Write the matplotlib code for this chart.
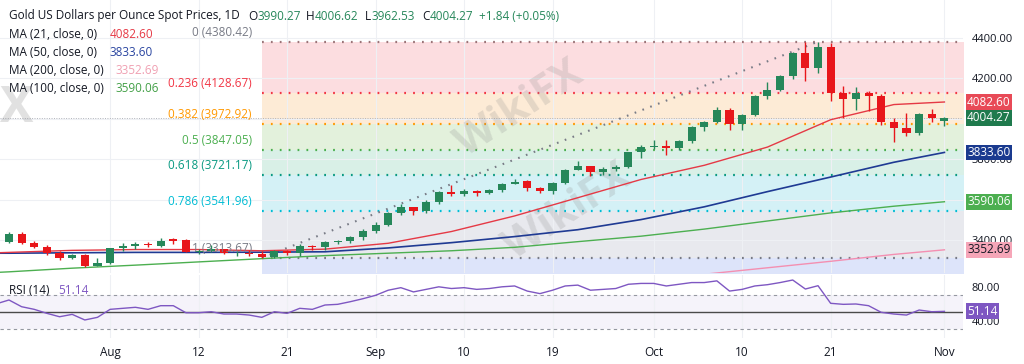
import numpy as np
import pandas as pd
import matplotlib
matplotlib.use("Agg")
import matplotlib.pyplot as plt
from matplotlib.transforms import blended_transform_factory

plt.rcParams['font.family'] = ['Open Sans', 'DejaVu Sans']

# daily bars, Jul 22 .. Nov 3 2025
dates = pd.bdate_range("2025-07-22", "2025-11-03")

opens = [3393, 3432, 3387, 3368, 3337, 3314, 3326, 3274, 3289, 3362,
         3373, 3380, 3372, 3404, 3400, 3343, 3348, 3356, 3335, 3336,
         3332, 3316, 3348, 3339, 3373, 3366, 3393, 3397, 3416, 3448,
         3477, 3533, 3563, 3545, 3588, 3638, 3628, 3642, 3633, 3646,
         3680, 3692, 3660, 3645, 3685, 3748, 3765, 3737, 3750, 3762,
         3835, 3858, 3866, 3856, 3888, 3960, 3986, 4042, 3976, 4017,
         4110, 4143, 4210, 4327, 4252, 4356, 4126, 4096, 4127, 4112,
         3982, 3953, 3930, 4024, 3990.27]
highs = [3440, 3439, 3394, 3378, 3345, 3334, 3334, 3314, 3363, 3385,
         3390, 3393, 3409, 3412, 3405, 3358, 3375, 3357, 3347, 3350,
         3345, 3350, 3352, 3379, 3376, 3394, 3402, 3423, 3454, 3490,
         3540, 3578, 3565, 3600, 3642, 3674, 3655, 3648, 3655, 3685,
         3703, 3698, 3665, 3690, 3750, 3791, 3768, 3760, 3770, 3838,
         3872, 3895, 3897, 3895, 3962, 3990, 4060, 4055, 4022, 4116,
         4180, 4218, 4330, 4380, 4380, 4375, 4160, 4155, 4135, 4120,
         4005, 4030, 4028, 4050, 4006.62]
lows = [3385, 3381, 3362, 3325, 3301, 3308, 3268, 3272, 3281, 3347,
        3358, 3368, 3366, 3382, 3341, 3331, 3343, 3330, 3323, 3323,
        3313, 3311, 3325, 3322, 3352, 3352, 3380, 3386, 3402, 3437,
        3470, 3527, 3526, 3535, 3577, 3620, 3620, 3616, 3630, 3640,
        3676, 3645, 3632, 3628, 3680, 3745, 3718, 3720, 3740, 3755,
        3805, 3850, 3820, 3845, 3880, 3940, 3978, 3945, 3945, 4012,
        4095, 4135, 4195, 4185, 4225, 4090, 4004, 4045, 4040, 3970,
        3886, 3915, 3920, 3985, 3962.53]
closes = [3432, 3387, 3368, 3337, 3314, 3326, 3274, 3289, 3362, 3373,
          3380, 3374, 3397, 3398, 3343, 3348, 3356, 3335, 3336, 3332,
          3316, 3348, 3339, 3373, 3366, 3393, 3397, 3416, 3448, 3477,
          3533, 3563, 3545, 3588, 3638, 3628, 3642, 3633, 3646, 3678,
          3690, 3658, 3645, 3685, 3748, 3765, 3735, 3750, 3762, 3835,
          3858, 3866, 3856, 3888, 3960, 3986, 4042, 3976, 4017, 4110,
          4143, 4210, 4327, 4252, 4356, 4126, 4096, 4126, 4112, 3982,
          3953, 3930, 4024, 4002, 4004.27]
change, change_pct = 1.84, 0.05

# moving averages (bar index -> value)
ma_idx = [-1, 0, 5, 10, 15, 20, 25, 30, 35, 40, 45, 50, 55, 60, 65, 70, 74]
ma21 = [3338, 3340, 3350, 3354, 3354, 3348, 3356, 3385, 3443, 3520, 3610,
        3700, 3770, 3860, 3995, 4070, 4082.60]
ma50 = [3336, 3336, 3338, 3340, 3340, 3341, 3343, 3362, 3388, 3418, 3452,
        3502, 3565, 3640, 3712, 3785, 3833.60]
ma100 = [3241, 3244, 3262, 3277, 3293, 3309, 3324, 3336, 3348, 3365, 3393,
         3420, 3455, 3495, 3535, 3568, 3590.06]
ma200_idx = [50, 55, 60, 65, 70, 74]
ma200 = [3205, 3232, 3264, 3296, 3330, 3352.69]

# RSI(14), first value is the bar before the window
rsi = [60, 64.5, 56.6, 53.5, 48.8, 44.8, 47.6, 41, 44.1, 53.5, 54.7,
       55.9, 53.5, 57.8, 57.8, 49.5, 49.5, 50.7, 48, 48, 46.8,
       44.1, 50.7, 48.8, 54.7, 53.5, 58.6, 59.4, 62.5, 66, 70,
       76, 79, 74, 77, 80, 78, 79, 77, 78, 80,
       81, 75, 72, 76, 81, 82, 76, 77, 78, 83,
       84, 84, 81, 83, 85, 85, 87, 75, 77, 81,
       82.5, 85, 88, 77.4, 81.3, 60.6, 59.4, 59.8, 57.8, 50,
       48, 46.8, 52.7, 50.7, 51.14]

# fibonacci retracement
fib_ratios = ["0", "0.236", "0.382", "0.5", "0.618", "0.786", "1"]
fib_prices = [4380.42, 4128.67, 3972.92, 3847.05, 3721.17, 3541.96, 3313.67]
fib_colors = ["#9b7478", "#f23645", "#ff9800", "#4caf50", "#089981", "#00bcd4", "#787b86"]
zone_colors = ["#fcdde0", "#fdebd6", "#e3f1dc", "#d9f0e7", "#d4f1f6", "#e8e9ee", "#dde4fa"]
fib_start, fib_end = "2025-08-19", "2025-10-20"
fib_ext_low = 2654.42

tick_dates = ["2025-08-01", "2025-08-12", "2025-08-21", "2025-09-01", "2025-09-10",
              "2025-09-19", "2025-10-01", "2025-10-10", "2025-10-21", "2025-11-03"]
tick_labels = ["Aug", "12", "21", "Sep", "10", "19", "Oct", "10", "21", "Nov"]
price_ticks = [3400, 3800, 4200, 4400]

GREEN = "#26875a"
RED = "#e8161b"
TXT = "#131722"

x = np.arange(len(dates))
o, h, l, c = map(np.array, (opens, highs, lows, closes))
up = c >= o
tick_idx = [dates.get_loc(pd.Timestamp(d)) for d in tick_dates]
i0 = dates.get_loc(pd.Timestamp(fib_start))
i1 = dates.get_loc(pd.Timestamp(fib_end))

fig = plt.figure(figsize=(10.24, 3.64), dpi=100)
ax = fig.add_axes([0, 0.25, 963 / 1024, 0.75])
ax2 = fig.add_axes([0, 26 / 364, 963 / 1024, 63 / 364], sharex=ax)

xmin, xmax = -0.71, 75.47
ax.set_xlim(xmin, xmax)
ax.set_ylim(3238.2, 4586.3)

# fib zones and levels
edges = fib_prices + [fib_ext_low]
for k in range(len(zone_colors)):
    ax.fill_between([i0, xmax + 5], edges[k + 1], edges[k], color=zone_colors[k], lw=0, zorder=0)
for k, p in enumerate(fib_prices):
    ax.plot([i0, xmax + 5], [p, p], color=fib_colors[k], lw=1.6, ls=(0, (0.8, 3.2)), zorder=1)
    ax.annotate(f"{fib_ratios[k]} ({p:.2f})", xy=(i0, p), xytext=(-10, 3),
                textcoords="offset pixels", ha="right", va="bottom",
                fontsize=8.5, color=fib_colors[k] if k else "#787b86", zorder=6)
ax.plot([i0, i1], [fib_prices[-1], fib_prices[0]], color="#787b86", lw=1.5,
        ls=(0, (0.8, 3.2)), zorder=2)

# current price line
ax.axhline(closes[-1], color="#b0b3bb", lw=0.7, ls=(0, (1, 1.5)), zorder=1)

# watermark
ax.text(0.54, 0.60, "WikiFX", transform=ax.transAxes, fontsize=30, fontweight="bold",
        color="#8a8a8a", alpha=0.22, rotation=33, ha="center", va="center", zorder=1)
ax.text(0.59, 0.22, "WikiFX", transform=ax.transAxes, fontsize=30, fontweight="bold",
        color="#8a8a8a", alpha=0.22, rotation=33, ha="center", va="center", zorder=1)
ax.text(0.0, 0.60, "X", transform=ax.transAxes, fontsize=36, fontweight="bold",
        color="#8a8a8a", alpha=0.25, ha="left", va="center", zorder=1)

# moving averages
ax.plot(ma_idx, ma100, color="#4caf50", lw=1.0, zorder=3)
ax.plot(ma200_idx, ma200, color="#f48fb1", lw=1.0, zorder=3)
ax.plot(ma_idx, ma50, color="#1f3a93", lw=1.2, zorder=3)
ax.plot(ma_idx, ma21, color="#e53945", lw=1.0, zorder=3)

# candles
cols = np.where(up, GREEN, RED)
ax.vlines(x, l, h, colors=cols, lw=1.0, zorder=4)
body = np.maximum(np.abs(c - o), 1.5)
ax.bar(x, body, bottom=np.minimum(o, c), width=0.64, color=cols, zorder=5)

# axes styling
ax.yaxis.tick_right()
ax.set_yticks(range(3400, 4401, 200))
ax.set_yticklabels([f"{v:.2f}" if v in price_ticks else "" for v in range(3400, 4401, 200)])
ax.tick_params(axis="y", length=0, pad=6, labelsize=8, labelcolor=TXT)
ax.set_xticks(tick_idx)
ax.tick_params(axis="x", length=0, labelbottom=False)
ax.grid(True, color="#eef0f4", lw=0.8, zorder=0)
ax.set_axisbelow(True)
for s in ax.spines.values():
    s.set_visible(False)

# last value boxes
tr = blended_transform_factory(ax.transAxes, ax.transData)
boxes = [(ma21[-1], "#e84a57", "white"), (closes[-1], "#1f7a4d", "white"),
         (ma50[-1], "#1a3a8f", "white"), (ma100[-1], "#4caf50", "white"),
         (ma200[-1], "#f6a6b8", TXT)]
for val, fc, tc in boxes:
    ax.annotate(f"{val:.2f}", xy=(1.0, val), xycoords=tr, xytext=(4, 0),
                textcoords="offset pixels", ha="left", va="center", fontsize=8.5,
                color=tc, annotation_clip=False, zorder=10,
                bbox=dict(boxstyle="square,pad=0.12", fc=fc, ec="none"))

# RSI pane
ax2.set_ylim(19.8, 93.9)
ax2.axhspan(30, 70, color="#7e57c2", alpha=0.07, lw=0)
ax2.axhline(70, color="#9598a1", lw=0.8, ls=(0, (3, 3)))
ax2.axhline(30, color="#9598a1", lw=0.8, ls=(0, (3, 3)))
ax2.axhline(50, color="#4a4a4a", lw=1.0)
ax2.plot(np.arange(-1, len(dates)), rsi, color="#7e57c2", lw=1.0, zorder=4)
ax2.yaxis.tick_right()
ax2.set_yticks([40, 80])
ax2.set_yticklabels(["40.00", "80.00"])
ax2.tick_params(axis="y", length=0, pad=6, labelsize=8, labelcolor=TXT)
ax2.set_xticks(tick_idx)
ax2.set_xticklabels(tick_labels)
ax2.tick_params(axis="x", length=0, pad=6, labelsize=8.5, labelcolor=TXT)
ax2.grid(True, axis="x", color="#eef0f4", lw=0.8)
for s in ax2.spines.values():
    s.set_visible(False)
tr2 = blended_transform_factory(ax2.transAxes, ax2.transData)
ax2.annotate(f"{rsi[-1]:.2f}", xy=(1.0, rsi[-1]), xycoords=tr2, xytext=(4, 0),
             textcoords="offset pixels", ha="left", va="center", fontsize=8.5,
             color="white", annotation_clip=False, zorder=10,
             bbox=dict(boxstyle="square,pad=0.12", fc="#7e57c2", ec="none"))

# legend block
def ftext(px, py, s, color=TXT):
    return fig.text(px / 1024, 1 - py / 364, s, color=color, fontsize=8.5, va="center", ha="left")

ftext(9, 16, "Gold US Dollars per Ounce Spot Prices, 1D")
for px, lab, val in [(248, "O", opens[-1]), (306, "H", highs[-1]),
                     (365, "L", lows[-1]), (422, "C", closes[-1])]:
    t = ftext(px, 16, lab)
    ax.annotate(f"{val:.2f}", xy=(1, 0.5), xycoords=t, va="center", ha="left",
                fontsize=8.5, color=GREEN, annotation_clip=False)
ftext(479, 16, f"+{change:.2f} (+{change_pct:.2f}%)", GREEN)

ma_rows = [("MA (21, close, 0)", ma21[-1], "#e53945", 110),
           ("MA (50, close, 0)", ma50[-1], "#2a45a0", 110),
           ("MA (200, close, 0)", ma200[-1], "#f0a0b2", 116),
           ("MA (100, close, 0)", ma100[-1], "#43a047", 116)]
for k, (lab, val, col, vx) in enumerate(ma_rows):
    ftext(9, 34 + 18 * k, lab)
    ftext(vx, 34 + 18 * k, f"{val:.2f}", col)

ftext(9, 291, "RSI (14)")
ftext(58, 291, f"{rsi[-1]:.2f}", "#7e57c2")

fig.savefig("out.png", dpi=100, facecolor="white")
